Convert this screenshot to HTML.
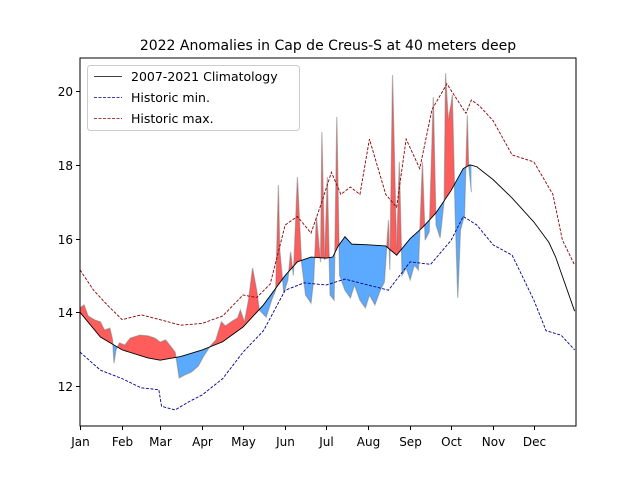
<!DOCTYPE html>
<html><head><meta charset="utf-8"><style>
body{margin:0;background:#fff}
svg{font-family:"DejaVu Sans","Liberation Sans",sans-serif}
</style></head><body>
<svg id="chart" width="640" height="480" viewBox="0 0 640 480">
<rect width="640" height="480" fill="#fff"/>
<text x="328" y="50" text-anchor="middle" font-size="14">2022 Anomalies in Cap de Creus-S at 40 meters deep</text>
<g id="plot"></g>
<rect x="80" y="58" width="496" height="368" fill="none" stroke="#000" stroke-width="1"/>
<g id="axes"></g>
<g>
<rect x="87.5" y="65.5" width="212" height="65" rx="3" fill="#fff" fill-opacity="0.8" stroke="#ccc"/>
<g><line x1="94" y1="76.5" x2="122" y2="76.5" stroke="#000" stroke-width="0.8"/><text x="131" y="81" font-size="12.5">2007-2021 Climatology</text></g>
<g><line x1="94" y1="97.5" x2="122" y2="97.5" stroke="#00008b" stroke-width="0.8" stroke-dasharray="3,1.5"/><text x="131" y="102" font-size="12.5">Historic min.</text></g>
<g><line x1="94" y1="118.5" x2="122" y2="118.5" stroke="#8b0000" stroke-width="0.8" stroke-dasharray="3,1.5"/><text x="131" y="123" font-size="12.5">Historic max.</text></g>
</g>
</svg>
<script>
const months=["Jan","Feb","Mar","Apr","May","Jun","Jul","Aug","Sep","Oct","Nov","Dec"];
const monthDays=[0,31,59,90,120,151,181,212,243,273,304,334];
const yTicks=[12,14,16,18,20];
const climDays=[0,15,31,50,59,74,90,105,120,135,151,160,170,181,186,190,195,200,212,225,233,243,252,262,273,282,287,292,304,318,334,345,350,364];
const climVals=[14.0,13.33,12.98,12.76,12.7,12.8,12.98,13.2,13.6,14.2,15.0,15.37,15.5,15.47,15.5,15.8,16.05,15.85,15.83,15.8,15.55,16.0,16.3,16.7,17.3,17.9,18.0,17.95,17.6,17.1,16.45,15.9,15.5,14.03];
const maxDays=[0,10,20,31,45,59,74,90,105,120,130,140,151,160,170,178,185,192,199,206,213,225,233,240,250,259,270,284,288,294,304,318,334,348,355,364];
const maxVals=[15.15,14.6,14.2,13.8,13.93,13.8,13.65,13.7,13.9,14.47,14.4,14.77,16.37,16.6,16.15,17.0,17.8,17.2,17.4,17.2,18.7,17.2,16.85,18.7,17.9,19.5,20.2,19.4,19.76,19.6,19.2,18.27,18.08,17.2,15.96,15.28];
const minDays=[0,15,31,45,58,60,70,80,90,105,120,135,151,165,181,195,212,227,243,258,273,282,292,304,318,334,343,354,364];
const minVals=[12.92,12.43,12.2,11.95,11.9,11.45,11.35,11.57,11.76,12.2,12.92,13.5,14.6,14.8,14.74,14.9,14.74,14.6,15.37,15.3,15.95,16.6,16.37,15.83,15.55,14.33,13.5,13.38,12.98];
const obsDays=[0,3,6,11,15,18,22,24,25,26.5,29,33,37,44,50,55,59,63,66,70,71,73,77,82,87,91,96,100,104,107,112,116,118,121,124,127,130,132,137,141,144,146,147,150,153,155,157,160,163,166,170,172,174,177,178,180,182,184,187,189,191,195,199,202,206,210,213,217,221,224,227,228,230,233,235,237,240,243,246,249,252,254,257,260,262,265,268,269,271,273,274,276,278,280,283,285,286,288];
const obsVals=[14.12,14.2,13.9,13.79,13.74,13.52,13.57,13.25,12.62,12.98,13.17,13.11,13.3,13.38,13.36,13.3,13.19,13.25,13.11,12.92,12.71,12.22,12.3,12.38,12.54,12.81,13.09,13.25,13.74,13.63,13.76,13.85,14.06,13.74,14.33,15.2,14.6,14.06,13.87,14.33,14.6,17.45,15.69,14.52,14.88,15.64,15.0,17.67,15.36,14.47,14.25,14.88,16.59,15.36,18.89,15.42,17.67,14.47,14.33,19.3,15.0,14.6,14.39,14.74,14.33,14.12,14.47,14.2,14.6,14.82,16.5,15.15,20.44,15.69,18.08,15.0,15.2,14.88,15.28,15.15,18.08,15.96,16.18,19.84,16.37,16.02,17.05,20.49,19.22,19.63,19.9,16.78,14.39,16.23,16.64,19.35,18.0,17.26];

const X=d=>80+d*496/365;
const Y=v=>386-(v-12)*36.85;
const NS="http://www.w3.org/2000/svg";
const plot=document.getElementById('plot'), axes=document.getElementById('axes');
function interp(ds,vs,d){if(d<=ds[0])return vs[0];for(let i=1;i<ds.length;i++){if(d<=ds[i]){const t=(d-ds[i-1])/(ds[i]-ds[i-1]);return vs[i-1]+t*(vs[i]-vs[i-1]);}}return vs[vs.length-1];}
function mk(tag,attrs){const e=document.createElementNS(NS,tag);for(const k in attrs)e.setAttribute(k,attrs[k]);return e;}
const grid=[];for(const d of obsDays)grid.push(d);
for(let d=0;d<=obsDays[obsDays.length-1];d+=0.25)grid.push(d);
grid.sort((a,b)=>a-b);
let up=[],lo=[],base=[];
for(const d of grid){const c=interp(climDays,climVals,d),o=interp(obsDays,obsVals,d);up.push([X(d),Y(Math.max(o,c))]);lo.push([X(d),Y(Math.min(o,c))]);base.push([X(d),Y(c)]);}
const pts=a=>a.map(p=>p[0].toFixed(2)+','+p[1].toFixed(2)).join(' ');
const red=mk('polygon',{points:pts(up)+' '+pts(base.slice().reverse()),fill:'#ff5c5c',stroke:'none'});


plot.appendChild(red);
const blue=mk('polygon',{points:pts(base)+' '+pts(lo.slice().reverse()),fill:'#5caaff',stroke:'none'});


plot.appendChild(blue);
const obs=mk('polyline',{points:pts(obsDays.map((d,i)=>[X(d),Y(obsVals[i])])),fill:'none',stroke:'#777','stroke-opacity':0.5,'stroke-width':1.2});


plot.appendChild(obs);
const line=(ds,vs,col,dash,name)=>{const l=mk('polyline',{points:pts(ds.map((d,i)=>[X(d),Y(vs[i])])),fill:'none',stroke:col,'stroke-width':0.9});if(dash)l.setAttribute('stroke-dasharray',dash);


plot.appendChild(l);};
line(minDays,minVals,'#00008b','3,1.5','historic-min-line');
line(maxDays,maxVals,'#8b0000','3,1.5','historic-max-line');
line(climDays,climVals,'#000',null,'climatology-line');
months.forEach((m,i)=>{const x=Math.round(X(monthDays[i]))+0.5;
const t=mk('line',{x1:x,y1:426,x2:x,y2:430,stroke:'#000'});


axes.appendChild(t);
const tx=mk('text',{x:x,y:446,'text-anchor':'middle','font-size':12});tx.textContent=m;


axes.appendChild(tx);});
yTicks.forEach(v=>{const y=Math.round(Y(v))+0.5;
const t=mk('line',{x1:76,y1:y,x2:80,y2:y,stroke:'#000'});


axes.appendChild(t);
const tx=mk('text',{x:73,y:y+4.5,'text-anchor':'end','font-size':12});tx.textContent=v;


axes.appendChild(tx);});
</script>
</body></html>
